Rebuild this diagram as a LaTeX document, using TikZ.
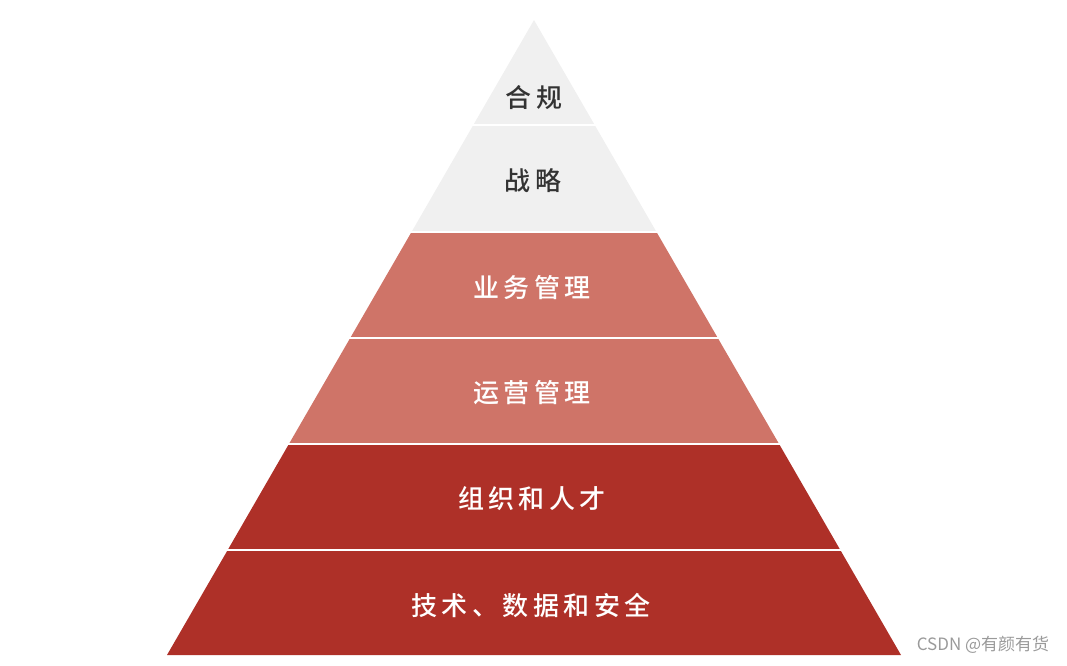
\documentclass[tikz,border=0pt]{standalone}
\usepackage{fontspec}
\newfontfamily\cjk{Noto Sans CJK SC}
\newfontfamily\cjkls{Noto Sans CJK SC Medium}[LetterSpace=17]
\definecolor{lgray}{HTML}{F0F0F0}
\definecolor{salmon}{HTML}{CF7468}
\definecolor{dred}{HTML}{AE3028}
\definecolor{dtext}{HTML}{333333}
\definecolor{wm}{HTML}{9A9A9A}
\tikzset{
  lbl/.style={font=\cjkls\fontsize{26}{30}\selectfont, inner sep=0pt},
  darklbl/.style={lbl, text=dtext},
  lightlbl/.style={lbl, text=white},
  gap/.style={white, line width=2.6pt},
}
\begin{document}
\begin{tikzpicture}[x=1pt,y=-1pt]
\useasboundingbox (0,0) rectangle (1067,665);
% layers
\fill[lgray] (534,20) -- (594.7,125) -- (473.3,125) -- cycle;
\fill[lgray] (473.3,125) -- (594.7,125) -- (656.5,232) -- (411.5,232) -- cycle;
\fill[salmon] (411.5,232) -- (656.5,232) -- (717.8,338) -- (350.2,338) -- cycle;
\fill[salmon] (350.2,338) -- (717.8,338) -- (779.1,444) -- (288.9,444) -- cycle;
\fill[dred] (288.9,444) -- (779.1,444) -- (840.3,550) -- (227.7,550) -- cycle;
\fill[dred] (227.7,550) -- (840.3,550) -- (901,655) -- (167,655) -- cycle;
% gaps
\coordinate (g1l) at (465,125); \coordinate (g1r) at (603,125);
\coordinate (g2l) at (400,232); \coordinate (g2r) at (668,232);
\coordinate (g3l) at (340,338); \coordinate (g3r) at (728,338);
\coordinate (g4l) at (278,444); \coordinate (g4r) at (790,444);
\coordinate (g5l) at (217,550); \coordinate (g5r) at (851,550);
\draw[gap] (g1l) -- (g1r);
\draw[gap] (g2l) -- (g2r);
\draw[gap] (g3l) -- (g3r);
\draw[gap] (g4l) -- (g4r);
\draw[gap] (g5l) -- (g5r);
% labels
\node[darklbl] (l1) at (534,98) {合规};
\node[darklbl] (l2) at (533,181) {战略};
\node[lightlbl] (l3) at (532,288) {业务管理};
\node[lightlbl] (l4) at (532,393) {运营管理};
\node[lightlbl] (l5) at (532,499) {组织和人才};
\node[lightlbl] (l6) at (531,606) {技术、数据和安全};
% watermark
\node[font=\cjk\fontsize{17}{20}\selectfont, text=wm, inner sep=0pt] (wm) at (983,645) {CSDN @有颜有货};
\end{tikzpicture}
\end{document}
